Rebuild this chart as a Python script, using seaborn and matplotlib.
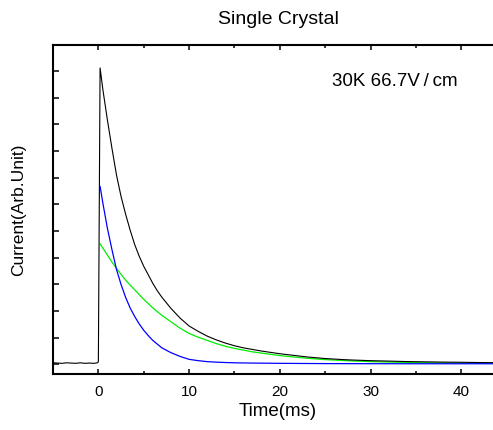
import matplotlib
matplotlib.use("Agg")
import matplotlib.pyplot as plt
import seaborn as sns
import pandas as pd
import numpy as np

# values (time in ms, current in arbitrary units)
t_black = [-5.0, -4.5, -4.0, -3.5, -3.0, -2.5, -2.0, -1.5, -1.0, -0.5, -0.1, 0.0, 0.19,
           0.5, 1.0, 1.5, 2.0, 2.5, 3.0, 3.5, 4.0, 4.5, 5.0, 5.5, 6.0, 6.5, 7.0, 8.0, 9.0,
           10.0, 11.0, 12.0, 13.0, 14.0, 15.0, 16.0, 17.0, 18.0, 19.0, 20.0, 21.0, 22.0,
           23.0, 24.0, 25.0, 26.0, 27.0, 28.0, 30.0, 32.0, 34.0, 36.0, 38.0, 40.0, 42.0, 44.6]
black = [0.03, 0.025, 0.02, 0.03, 0.025, 0.02, 0.03, 0.02, 0.025, 0.02, 0.03, 0.05, 5.56,
         5.15, 4.58, 4.05, 3.55, 3.15, 2.82, 2.52, 2.25, 2.03, 1.84, 1.68, 1.52, 1.38, 1.26,
         1.05, 0.87, 0.72, 0.62, 0.53, 0.46, 0.40, 0.35, 0.31, 0.28, 0.25, 0.225, 0.20,
         0.18, 0.16, 0.14, 0.125, 0.11, 0.10, 0.09, 0.082, 0.07, 0.062, 0.053, 0.048, 0.043,
         0.04, 0.035, 0.03]

t_fit = [0.19, 0.5, 1.0, 1.5, 2.0, 2.5, 3.0, 3.5, 4.0, 4.5, 5.0, 5.5, 6.0, 6.5, 7.0, 8.0,
         9.0, 10.0, 11.0, 12.0, 13.0, 14.0, 15.0, 17.0, 20.0, 23.0, 25.0, 28.0, 30.0, 35.0,
         40.0, 44.6]
blue = [3.34, 3.02, 2.55, 2.15, 1.78, 1.50, 1.26, 1.06, 0.90, 0.76, 0.64, 0.54, 0.45, 0.38,
        0.31, 0.22, 0.15, 0.095, 0.07, 0.052, 0.042, 0.035, 0.030, 0.025, 0.02, 0.017, 0.015,
        0.014, 0.013, 0.012, 0.012, 0.012]
green = [2.26, 2.18, 2.05, 1.92, 1.80, 1.69, 1.58, 1.49, 1.40, 1.31, 1.22, 1.14, 1.06, 0.99,
         0.92, 0.80, 0.68, 0.58, 0.51, 0.45, 0.39, 0.34, 0.30, 0.235, 0.165, 0.115, 0.09,
         0.065, 0.052, 0.033, 0.024, 0.02]

x_major = [0, 10, 20, 30, 40]
x_minor = [5, 15, 25, 35]

sns.set_style("ticks", {"axes.edgecolor": "black", "text.color": "black",
                        "xtick.color": "black", "ytick.color": "black",
                        "axes.labelcolor": "black"})
plt.rcParams["font.family"] = ["Liberation Sans", "DejaVu Sans"]

fig = plt.figure(figsize=(4.93, 4.30), dpi=100)
ax = fig.add_axes([53 / 493, 56 / 430, 450 / 493, 329 / 430])

df_black = pd.DataFrame({"t": t_black, "I": black})
df_fit = pd.DataFrame({"t": t_fit, "blue": blue, "green": green})

sns.lineplot(data=df_fit, x="t", y="green", color="#00ee00", lw=0.9, sort=False,
             estimator=None, ax=ax)
sns.lineplot(data=df_black, x="t", y="I", color="black", lw=0.8, sort=False,
             estimator=None, ax=ax)
sns.lineplot(data=df_fit, x="t", y="blue", color="#0000ff", lw=0.9, sort=False,
             estimator=None, ax=ax)

ax.set_xlim(-5, 44.6)
ax.set_ylim(-0.18, 5.99)
ax.set_xticks(x_major)
ax.set_xticks(x_minor, minor=True)
ax.set_yticks(np.arange(0, 6, 0.5))
ax.set_yticklabels([])
ax.tick_params(axis="both", which="major", direction="in", length=3.8, width=1.1,
               top=True, labelsize=11, pad=8)
ax.tick_params(axis="x", which="minor", direction="in", length=2, width=1.1, top=True)
ax.tick_params(axis="y", which="major", length=4.5)
for s in ["left", "bottom", "top"]:
    ax.spines[s].set_linewidth(1.5)
ax.spines["right"].set_visible(False)

ax.set_title("Single Crystal", fontsize=14, pad=15)
ax.set_xlabel("Time(ms)", fontsize=13.5, labelpad=3)
ax.set_ylabel("Current(Arb.Unit)", fontsize=12.5, labelpad=11)
ax.text(0.62, 0.875, "30K 66.7V\u2009/\u2009cm", transform=ax.transAxes, fontsize=13.5)

fig.savefig("out.png", dpi=100)
